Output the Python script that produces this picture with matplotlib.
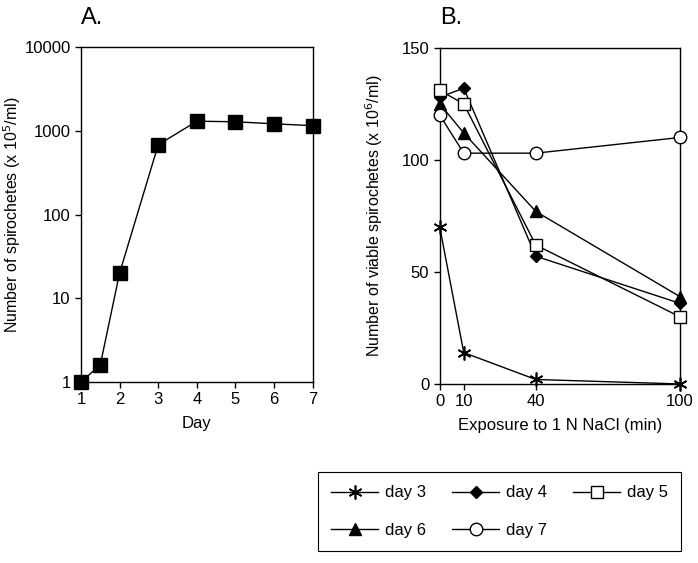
import matplotlib.pyplot as plt
import numpy as np

plt.rcParams['font.family'] = ['Liberation Sans', 'DejaVu Sans']
plt.rcParams['font.size'] = 12

# panel A: growth curve
days = [1, 1.5, 2, 3, 4, 5, 6, 7]
counts = [1, 1.6, 20, 680, 1300, 1280, 1210, 1150]

# panel B: survival after NaCl exposure
minutes = [0, 10, 40, 100]
day3 = [70, 14, 2, 0]
day4 = [128, 132, 57, 36]
day5 = [131, 125, 62, 30]
day6 = [125, 112, 77, 39]
day7 = [120, 103, 103, 110]

fig = plt.figure(figsize=(6.98, 5.63), dpi=100)
axA = fig.add_axes([0.116, 0.3215, 0.332, 0.595])
axB = fig.add_axes([0.630, 0.318, 0.344, 0.597])

# A
axA.plot(days, counts, color='black', lw=1, marker='s', ms=9.5, mfc='black', mec='black', clip_on=False, zorder=3)
axA.set_yscale('log')
axA.set_xlim(1, 7)
axA.set_ylim(1, 10000)
axA.set_yticks([1, 10, 100, 1000, 10000])
axA.set_yticklabels(['1', '10', '100', '1000', '10000'])
axA.minorticks_off()
axA.set_xticks(range(1, 8))
axA.set_xlabel('Day', labelpad=6)
axA.set_ylabel('Number of spirochetes (x 10$^5$/ml)', fontsize=11.5)
axA.yaxis.set_label_coords(-0.25, 0.5)
axA.text(0.0, 1.055, 'A.', transform=axA.transAxes, fontsize=17, ha='left', va='bottom')

# B
lw = 1
axB.plot(minutes, day3, color='black', lw=lw, marker=(6, 2, 0), ms=10, mew=1.2, label='day 3', clip_on=False, zorder=3)
axB.plot(minutes, day4, color='black', lw=lw, marker='D', ms=6.5, mfc='black', label='day 4', clip_on=False, zorder=3)
axB.plot(minutes, day5, color='black', lw=lw, marker='s', ms=9, mfc='white', mec='black', label='day 5', clip_on=False, zorder=4)
axB.plot(minutes, day6, color='black', lw=lw, marker='^', ms=9, mfc='black', label='day 6', clip_on=False, zorder=3)
axB.plot(minutes, day7, color='black', lw=lw, marker='o', ms=9, mfc='white', mec='black', label='day 7', clip_on=False, zorder=3)
axB.set_xlim(0, 100)
axB.set_ylim(0, 150)
axB.set_xticks(minutes)
axB.set_yticks([0, 50, 100, 150])
axB.set_xlabel('Exposure to 1 N NaCl (min)', labelpad=6)
axB.set_ylabel('Number of viable spirochetes (x 10$^6$/ml)', fontsize=11.5)
axB.yaxis.set_label_coords(-0.23, 0.5)
axB.text(0.0, 1.055, 'B.', transform=axB.transAxes, fontsize=17, ha='left', va='bottom')

for ax in (axA, axB):
    ax.tick_params(direction='out', length=4, width=1, labelsize=12)
    for s in ax.spines.values():
        s.set_linewidth(1)

# legend below panel B, filled row by row
h, l = axB.get_legend_handles_labels()
order = [0, 3, 1, 4, 2]
leg = fig.legend([h[i] for i in order], [l[i] for i in order], ncol=3,
                 loc='upper left', bbox_to_anchor=(318 / 698, 1 - 472 / 563),
                 handlelength=2.8, handletextpad=0.4, columnspacing=1.6,
                 labelspacing=1.33, fancybox=False, edgecolor='black',
                 framealpha=1, fontsize=12, borderpad=0.8, borderaxespad=0)
leg.get_frame().set_linewidth(0.8)

plt.savefig('out.png', dpi=100)
